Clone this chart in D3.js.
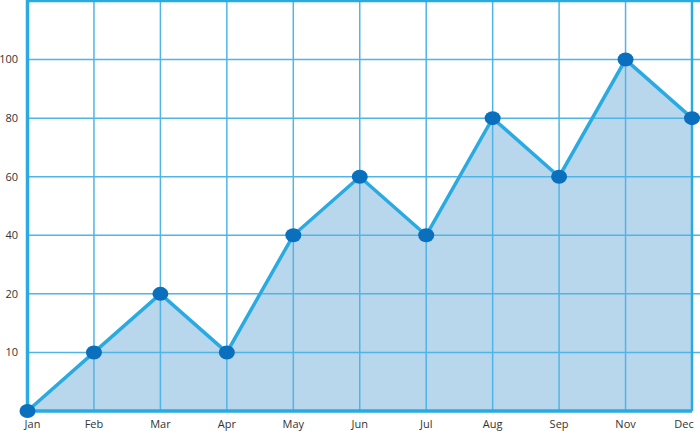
<!DOCTYPE html>
<html><head><meta charset="utf-8">
<script src="https://cdn.jsdelivr.net/npm/d3@7"></script>
<style>html,body{margin:0;padding:0;background:#fff;}svg{display:block;}</style>
</head><body>
<svg id="chart" width="700" height="431"></svg>
<script>
const months = ["Jan","Feb","Mar","Apr","May","Jun","Jul","Aug","Sep","Nov","Dec"];
const values = [0,10,20,10,40,60,40,80,60,100,80];
const yTicks = [10,20,40,60,80,100];
const yLevels = [0,10,20,40,60,80,100,120];

(function(){
const svg = d3.select("#chart");
const mLeft = 27.5, mRight = 692, mBottom = 411, mTop = 1;
const x = d3.scalePoint().domain(months).range([mLeft, mRight]);
const step = (mBottom - mTop) / (yLevels.length - 1);
const y = d3.scaleLinear().domain(yLevels).range(yLevels.map((d,i) => mBottom - i*step));

const grid = "#4fb5e6", axisC = "#29abe2";

const area = d3.area().x((d,i)=>x(months[i])).y0(mBottom).y1(d=>y(d));
svg.append("path").datum(values).attr("d", area).attr("fill", "#b8d6ec");

svg.append("g").selectAll("line").data(yTicks).join("line")
  .attr("x1", mLeft).attr("x2", 700).attr("y1", d=>y(d)).attr("y2", d=>y(d))
  .attr("stroke", grid).attr("stroke-width", 1.5);
svg.append("g").selectAll("line").data(months.slice(1)).join("line")
  .attr("x1", d=>x(d)).attr("x2", d=>x(d)).attr("y1", 0).attr("y2", mBottom)
  .attr("stroke", grid).attr("stroke-width", 1.5);
svg.append("line").attr("x1", mLeft).attr("x2", 700).attr("y1", y(120)).attr("y2", y(120))
  .attr("stroke", axisC).attr("stroke-width", 2.5);
svg.append("line").attr("x1", mRight).attr("x2", mRight).attr("y1", 0).attr("y2", mBottom)
  .attr("stroke", axisC).attr("stroke-width", 2.5);
svg.append("line").attr("x1", mLeft).attr("x2", mLeft).attr("y1", 0).attr("y2", mBottom+1.5)
  .attr("stroke", axisC).attr("stroke-width", 3.5);
svg.append("line").attr("x1", mLeft).attr("x2", mRight).attr("y1", mBottom).attr("y2", mBottom)
  .attr("stroke", axisC).attr("stroke-width", 3.5);

const line = d3.line().x((d,i)=>x(months[i])).y(d=>y(d));
svg.append("path").datum(values).attr("d", line).attr("fill","none")
  .attr("stroke", axisC).attr("stroke-width", 3.5).attr("stroke-linejoin","miter");

svg.append("g").selectAll("ellipse").data(values).join("ellipse")
  .attr("cx", (d,i)=>x(months[i])).attr("cy", d=>y(d))
  .attr("rx", 8).attr("ry", 7).attr("fill", "#0a6fbd");

svg.append("g").selectAll("text").data(yTicks).join("text")
  .attr("x", 18).attr("y", d=>y(d)).attr("dy","0.35em").attr("text-anchor","end")
  .attr("font-family","Open Sans").attr("font-size",11).attr("fill","#333")
  .text(d=>d);
svg.append("g").selectAll("text").data(months).join("text")
  .attr("x", d=>x(d) + (d==="Jan"?5:(d==="Dec"?-8:0))).attr("y", 428).attr("text-anchor","middle")
  .attr("font-family","Open Sans").attr("font-size",11).attr("fill","#333")
  .text(d=>d);
})();
</script>
</body></html>
